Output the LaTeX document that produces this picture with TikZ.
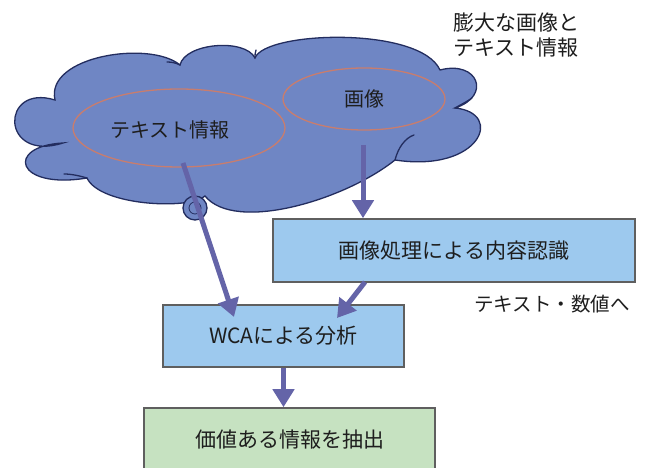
\documentclass[tikz,border=0pt]{standalone}
\usepackage{fontspec}
\setmainfont{Noto Sans CJK JP}
\usetikzlibrary{arrows.meta,shapes.geometric,calc}
\definecolor{cloudfill}{RGB}{111,134,196}
\definecolor{cloudline}{RGB}{35,45,95}
\definecolor{ovalline}{RGB}{200,125,110}
\definecolor{arrowc}{RGB}{100,100,168}
\definecolor{boxblue}{RGB}{157,201,238}
\definecolor{boxgreen}{RGB}{198,226,193}
\definecolor{boxline}{RGB}{95,95,95}
\definecolor{txt}{RGB}{30,30,30}
\tikzset{
  oval/.style={ellipse, draw=ovalline, line width=1.3pt, inner sep=0pt},
  lbl/.style={text=txt, inner sep=0pt, font=\fontsize{20}{24}\selectfont},
  procbox/.style={draw=boxline, line width=1.6pt, fill=boxblue, inner sep=0pt, text=txt, font=\fontsize{21}{25}\selectfont},
  resbox/.style={procbox, fill=boxgreen},
  arr/.style={draw=arrowc, line width=5pt, -{Triangle[width=21pt,length=18pt]}},
  crease/.style={cloudline, line width=1.3pt, line cap=round}
}
\begin{document}
\begin{tikzpicture}[x=1pt,y=1pt]
\clip (0,0) rectangle (645,468);
\fill[white] (0,0) rectangle (645,468);
% cloud
\path[fill=cloudfill, draw=cloudline, line width=1.3pt]
  (63,325) .. controls (0,305) and (0,385) .. (55,368)
  .. controls (45,412) and (150,428) .. (180,403)
  .. controls (185,425) and (245,430) .. (255,410)
  .. controls (265,437) and (420,442) .. (440,398)
  .. controls (478,408) and (492,372) .. (455,360)
  .. controls (505,355) and (480,295) .. (395,308)
  .. controls (345,268) and (235,235) .. (205,272)
  .. controls (190,258) and (100,262) .. (87,290)
  .. controls (15,278) and (5,322) .. (63,325) -- cycle;
% creases of the cloud
\draw[crease] (455,360) .. controls (462,364) and (468,367) .. (472,370);
\draw[crease] (395,308) .. controls (398,320) and (405,330) .. (414,333);
\draw[crease] (87,290) .. controls (80,292) and (72,294) .. (64,294);
\draw[crease] (180,403) .. controls (176,405) and (172,406) .. (167,406);
\draw[crease] (255,410) .. controls (255,413) and (255,415) .. (256,418);
% small bubble
\draw[cloudline, line width=1.3pt, fill=cloudfill] (195,260) circle (12);
\draw[cloudline, line width=0.8pt] (195,260) circle (6);
% ovals
\node[oval, minimum width=212pt, minimum height=78pt] (te) at (179,340) {};
\node[lbl] (tetext) at (170,338) {テキスト情報};
\node[oval, minimum width=162pt, minimum height=62pt, text=txt, font=\fontsize{20}{24}\selectfont] (im) at (364,369) {画像};
% top-right note
\node[lbl, anchor=west, align=left, font=\fontsize{21}{25}\selectfont] (note) at (453,432.5) {膨大な画像と\\テキスト情報};
% boxes
\node[procbox, minimum width=362pt, minimum height=63pt] (proc) at (454,217.5) {画像処理による内容認識};
\node[lbl, font=\fontsize{19.5}{24}\selectfont] (num) at (552,164) {テキスト・数値へ};
\node[procbox, minimum width=241pt, minimum height=62pt] (wca) at (283.5,132) {WCAによる分析};
\node[resbox, minimum width=291pt, minimum height=64pt] (res) at (289.5,28) {価値ある情報を抽出};
% arrows
\coordinate (a1s) at (183,305);
\coordinate (a1e) at (234,151);
\coordinate (a2s) at (363,323);
\coordinate (a3s) at (365,186);
\coordinate (a3e) at (337,150);
\draw[arr] (a1s) -- (a1e);
\draw[arr] (a2s) -- (a2s |- proc.north);
\draw[arr] (a3s) -- (a3e);
\draw[arr] (wca.south) -- (wca.south |- res.north);
\end{tikzpicture}
\end{document}
